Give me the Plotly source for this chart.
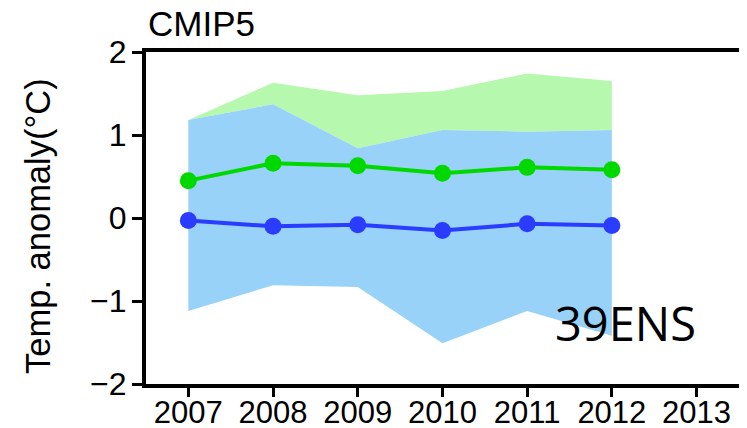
import plotly.graph_objects as go

years = [2007, 2008, 2009, 2010, 2011, 2012]
tick_years = [2007, 2008, 2009, 2010, 2011, 2012, 2013]

green_mean = [0.45, 0.66, 0.63, 0.54, 0.61, 0.58]
blue_mean = [-0.03, -0.10, -0.08, -0.15, -0.07, -0.09]

green_upper = [1.18, 1.63, 1.48, 1.53, 1.74, 1.65]
green_lower = [1.18, 1.37, 0.84, 1.06, 1.04, 1.06]
blue_upper = [1.18, 1.37, 0.84, 1.06, 1.04, 1.06]
blue_lower = [-1.12, -0.81, -0.83, -1.51, -1.12, -1.42]

GREEN_BAND = "#b6f8ae"
BLUE_BAND = "#98d2f8"
GREEN_LINE = "#00d800"
BLUE_LINE = "#2a3cff"

fig = go.Figure()

fig.add_trace(go.Scatter(
    x=years + years[::-1], y=green_upper + green_lower[::-1],
    fill="toself", fillcolor=GREEN_BAND, line=dict(width=0),
    mode="lines", hoverinfo="skip", showlegend=False))
fig.add_trace(go.Scatter(
    x=years + years[::-1], y=blue_upper + blue_lower[::-1],
    fill="toself", fillcolor=BLUE_BAND, line=dict(width=0),
    mode="lines", hoverinfo="skip", showlegend=False))
fig.add_trace(go.Scatter(
    x=years, y=green_mean, mode="lines+markers",
    line=dict(color=GREEN_LINE, width=4),
    marker=dict(color=GREEN_LINE, size=17), showlegend=False))
fig.add_trace(go.Scatter(
    x=years, y=blue_mean, mode="lines+markers",
    line=dict(color=BLUE_LINE, width=4),
    marker=dict(color=BLUE_LINE, size=17), showlegend=False))

font_main = "Liberation Sans, Arial, sans-serif"

fig.update_layout(
    width=747, height=428,
    margin=dict(l=138, r=0, t=44, b=52),
    paper_bgcolor="white", plot_bgcolor="white",
    font=dict(family=font_main, color="black", size=32),
    xaxis=dict(
        range=[2006.5, 2013.69], tickmode="array", tickvals=tick_years,
        ticktext=[str(v) for v in tick_years], automargin=False,
        showgrid=False, zeroline=False, showline=True, linecolor="black",
        linewidth=4, mirror=True, ticks="outside", ticklen=9, tickwidth=3,
        tickcolor="black", tickfont=dict(size=31), ticklabelstandoff=-11),
    yaxis=dict(
        range=[-2, 2], tickvals=[-2, -1, 0, 1, 2], automargin=False,
        showgrid=False, zeroline=False, showline=True, linecolor="black",
        linewidth=4, ticks="outside", ticklen=10, tickwidth=3,
        tickcolor="black", tickfont=dict(size=32), ticklabelstandoff=-1),
    annotations=[
        dict(text="CMIP5", xref="paper", yref="paper", x=0, y=1,
             xanchor="left", yanchor="bottom", xshift=0, yshift=7,
             showarrow=False, font=dict(size=35, family=font_main)),
        dict(text="Temp. anomaly(°C)", xref="paper", yref="paper",
             x=0, y=0.476, xanchor="center", yanchor="middle", xshift=-108,
             textangle=-90, showarrow=False,
             font=dict(size=34.5, family=font_main)),
        dict(text="39ENS", xref="x", yref="y", x=2011.3, y=-1.27,
             xanchor="left", yanchor="middle", showarrow=False,
             font=dict(size=47, family="Open Sans, sans-serif", color="black")),
    ],
)

fig.write_html("out.html")
